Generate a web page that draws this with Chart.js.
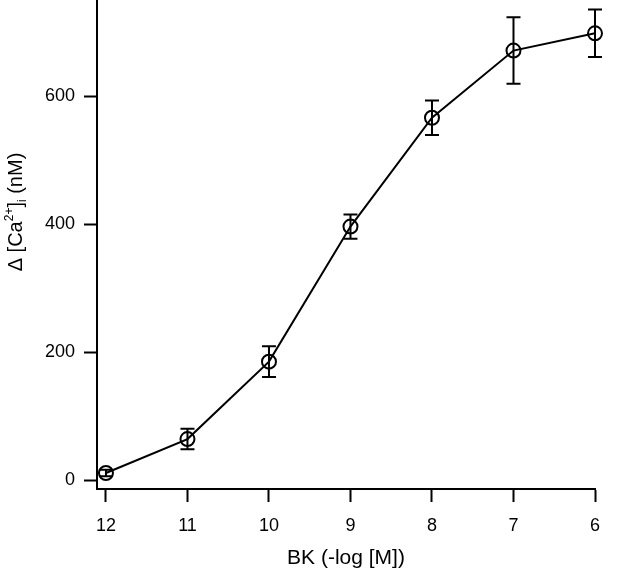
<!DOCTYPE html>
<html>
<head>
<meta charset="utf-8">
<script src="https://cdn.jsdelivr.net/npm/chart.js@4/dist/chart.umd.min.js"></script>
<style>
  html, body { margin: 0; padding: 0; background: #fff; }
  #wrap { width: 640px; height: 571px; position: relative; }
</style>
</head>
<body>
<div id="wrap"><canvas id="chart"></canvas></div>
<script>
// BK dose (-log M) and Ca2+ response (nM), mean and error
var doses = [12, 11, 10, 9, 8, 7, 6];
var meanCa = [11, 64, 185, 396, 566, 671, 698];
var errCa = [5, 16, 24, 19, 27, 52, 37];
var xTicks = [12, 11, 10, 9, 8, 7, 6];
var yTicks = [0, 200, 400, 600];

var FONT = '"Liberation Sans", Arial, sans-serif';

var points = doses.map(function (d, i) {
  return { x: d, y: meanCa[i] };
});

// error bars, drawn through the scales
var errorBars = {
  id: 'errorBars',
  afterDatasetsDraw: function (chart) {
    var ctx = chart.ctx;
    var xs = chart.scales.x, ys = chart.scales.y;
    ctx.save();
    ctx.strokeStyle = '#000';
    ctx.lineWidth = 2;
    doses.forEach(function (d, i) {
      var px = xs.getPixelForValue(d);
      var top = ys.getPixelForValue(meanCa[i] + errCa[i]);
      var bot = ys.getPixelForValue(meanCa[i] - errCa[i]);
      ctx.beginPath();
      ctx.moveTo(px, top); ctx.lineTo(px, bot);
      ctx.moveTo(px - 7, top); ctx.lineTo(px + 7, top);
      ctx.moveTo(px - 7, bot); ctx.lineTo(px + 7, bot);
      ctx.stroke();
    });
    ctx.restore();
  }
};

// y title with superscript / subscript
var yTitle = {
  id: 'yTitle',
  afterDraw: function (chart) {
    var ctx = chart.ctx;
    var parts = [
      { t: '\u0394 [Ca', s: 20, dy: 0 },
      { t: '2+', s: 12, dy: -9 },
      { t: ']', s: 20, dy: 0 },
      { t: 'i', s: 12, dy: 4 },
      { t: ' (nM)', s: 20, dy: 0 }
    ];
    ctx.save();
    var w = 0;
    parts.forEach(function (p) {
      ctx.font = p.s + 'px ' + FONT;
      p.w = ctx.measureText(p.t).width;
      w += p.w;
    });
    ctx.translate(22, 212);
    ctx.rotate(-Math.PI / 2);
    ctx.fillStyle = '#000';
    ctx.textBaseline = 'alphabetic';
    var x = -w / 2;
    parts.forEach(function (p) {
      ctx.font = p.s + 'px ' + FONT;
      ctx.fillText(p.t, x, p.dy);
      x += p.w;
    });
    ctx.restore();
  }
};

new Chart(document.getElementById('chart'), {
  type: 'line',
  data: {
    datasets: [{
      data: points,
      borderColor: '#000',
      borderWidth: 2,
      backgroundColor: 'rgba(0,0,0,0)',
      pointRadius: 7,
      pointBorderWidth: 2,
      pointBorderColor: '#000',
      pointBackgroundColor: 'rgba(0,0,0,0)',
      tension: 0,
      clip: false
    }]
  },
  options: {
    responsive: true,
    maintainAspectRatio: false,
    animation: false,
    layout: { autoPadding: false, padding: { top: 0, right: 45, bottom: 0, left: 0 } },
    plugins: { legend: { display: false }, tooltip: { enabled: false } },
    scales: {
      x: {
        type: 'linear',
        reverse: true,
        min: 6,
        max: 12.11,
        afterBuildTicks: function (s) { s.ticks = xTicks.map(function (v) { return { value: v }; }); },
        afterFit: function (s) { s.height = 82; s.paddingLeft = 0; s.paddingRight = 0; },
        grid: { drawOnChartArea: false, drawTicks: true, tickLength: 13, tickColor: '#000', tickWidth: 2 },
        border: { display: true, color: '#000', width: 2 },
        ticks: { color: '#000', font: { family: FONT, size: 18 }, padding: 13, maxRotation: 0 },
        title: { display: true, text: 'BK (-log [M])', color: '#000', font: { family: FONT, size: 21 }, padding: { top: 11, bottom: 0 } }
      },
      y: {
        min: -14,
        max: 750,
        afterBuildTicks: function (s) { s.ticks = yTicks.map(function (v) { return { value: v }; }); },
        afterFit: function (s) { s.width = 97; s.paddingTop = 0; s.paddingBottom = 0; },
        grid: { drawOnChartArea: false, drawTicks: true, tickLength: 13, tickColor: '#000', tickWidth: 2 },
        border: { display: true, color: '#000', width: 2 },
        ticks: { color: '#000', font: { family: FONT, size: 18 }, padding: 9 }
      }
    }
  },
  plugins: [errorBars, yTitle]
});
</script>
</body>
</html>
